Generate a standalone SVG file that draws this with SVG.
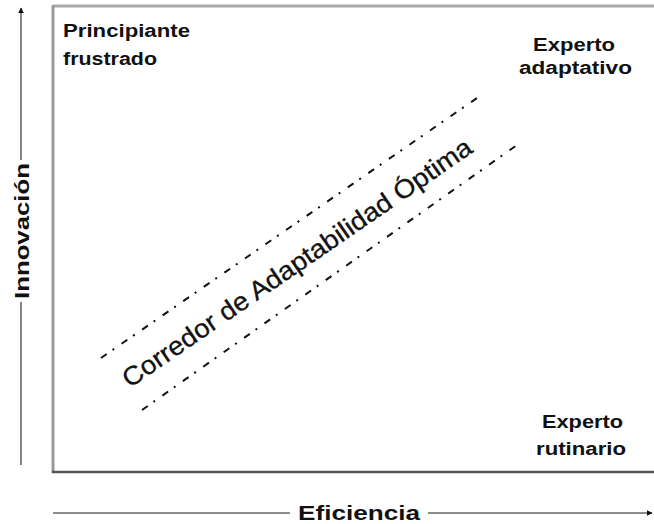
<svg xmlns="http://www.w3.org/2000/svg" width="654" height="524" viewBox="0 0 654 524">
  <defs>
    <marker id="arrow" viewBox="0 0 10 10" refX="9" refY="5" markerWidth="6" markerHeight="6" orient="auto" markerUnits="userSpaceOnUse">
      <path d="M0,0 L10,5 L0,10 z" fill="#111"/>
    </marker>
    <style>
      .lbl { font-family: "Liberation Sans", Arial, sans-serif; font-weight: bold; font-size: 18px; fill: #111; }
      .axis-lbl { font-family: "Liberation Sans", Arial, sans-serif; font-weight: bold; font-size: 21px; fill: #111; }
      .axis { stroke: #666; stroke-width: 1.6; fill: none; }
      .corr { stroke: #111; stroke-width: 2; fill: none; stroke-dasharray: 7 7 2 9; }
      .corr-lbl { font-family: "Liberation Sans", Arial, sans-serif; font-size: 26px; fill: #111; stroke: #111; stroke-width: 0.3; }
    </style>
  </defs>
  <rect width="654" height="524" fill="#fff"/>

  <!-- chart frame -->
  <g id="frame">
    <line x1="53" y1="6" x2="654" y2="6" stroke="#aaa" stroke-width="3"/>
    <line x1="53" y1="5" x2="53" y2="473" stroke="#999" stroke-width="3"/>
    <line x1="52" y1="472" x2="654" y2="472" stroke="#555" stroke-width="2.5"/>
  </g>

  <!-- axes -->
  <g id="axes">
    <line class="axis" x1="21" y1="465" x2="21" y2="302"/>
    <line class="axis" x1="21" y1="160" x2="21" y2="8" marker-end="url(#arrow)"/>
    <line class="axis" x1="53" y1="513" x2="290" y2="513"/>
    <line class="axis" x1="428" y1="513" x2="652" y2="513" marker-end="url(#arrow)"/>
    <text class="axis-lbl" x="0" y="0" text-anchor="middle" textLength="136" lengthAdjust="spacingAndGlyphs" transform="translate(29,231) rotate(-90)">Innovación</text>
    <text class="axis-lbl" x="359" y="520" text-anchor="middle" textLength="122" lengthAdjust="spacingAndGlyphs">Eficiencia</text>
  </g>

  <!-- corridor -->
  <g id="corridor">
    <line class="corr" x1="101" y1="358" x2="477" y2="98"/>
    <line class="corr" x1="142" y1="410" x2="517" y2="145"/>
    <text class="corr-lbl" x="0" y="0" text-anchor="middle" textLength="418" lengthAdjust="spacingAndGlyphs" transform="translate(302,270) rotate(-34.5)">Corredor de Adaptabilidad Óptima</text>
  </g>

  <g id="principiante">
    <text class="lbl" x="63" y="37" textLength="127" lengthAdjust="spacingAndGlyphs">Principiante</text>
    <text class="lbl" x="63" y="65" textLength="94" lengthAdjust="spacingAndGlyphs">frustrado</text>
  </g>
  <g id="experto-adaptativo">
    <text class="lbl" x="533" y="51" textLength="82" lengthAdjust="spacingAndGlyphs">Experto</text>
    <text class="lbl" x="519" y="74" textLength="113" lengthAdjust="spacingAndGlyphs">adaptativo</text>
  </g>
  <g id="experto-rutinario">
    <text class="lbl" x="542" y="428" textLength="81" lengthAdjust="spacingAndGlyphs">Experto</text>
    <text class="lbl" x="536" y="455" textLength="90" lengthAdjust="spacingAndGlyphs">rutinario</text>
  </g>
</svg>
